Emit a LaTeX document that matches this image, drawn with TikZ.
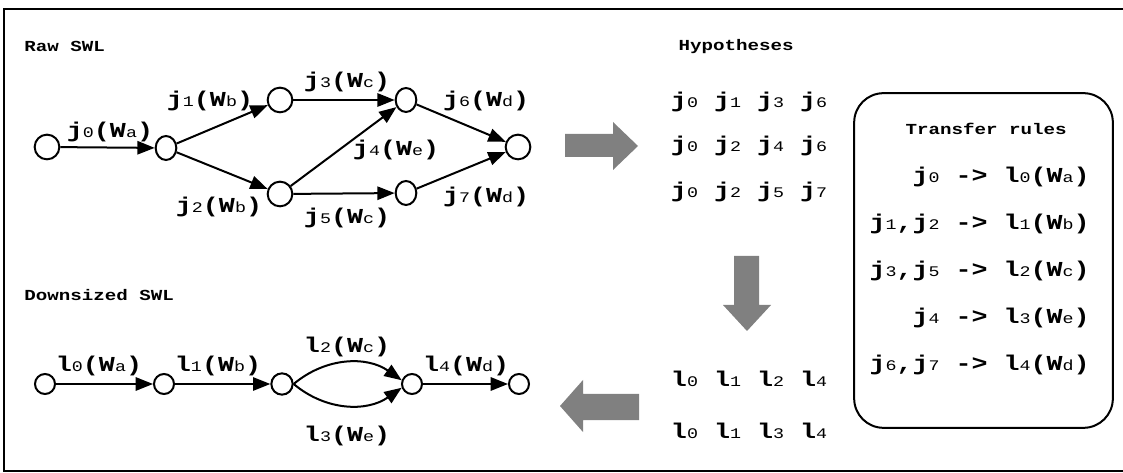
\documentclass[tikz,border=0pt]{standalone}
\usepackage{fontspec}
\newfontfamily\swlfont[FakeStretch=1.25]{Liberation Mono}
\usetikzlibrary{shapes.geometric,arrows.meta}
% small index after j or l
\newcommand{\idx}[1]{{\fontsize{11}{12}\selectfont\mdseries #1}}

\begin{document}
\begin{tikzpicture}[x=0.75pt,y=-0.75pt,
	lab/.style={font=\swlfont\bfseries\fontsize{16}{18}\selectfont,inner sep=0pt},
	title/.style={font=\swlfont\bfseries\fontsize{11.5}{13}\selectfont,inner sep=0pt,anchor=base west},
	vtx/.style={circle,draw,line width=1.5pt,minimum size=18.5pt,inner sep=0pt},
	vtxe/.style={ellipse,draw,line width=1.5pt,minimum width=15.5pt,minimum height=18pt,inner sep=0pt},
	swl/.style={line width=1.5pt,-{Triangle[length=13pt,width=10pt]}},
	fat/.style={fill=black!50,draw=none}]
\useasboundingbox (0,0) rectangle (1123,473);
\draw [line width=1.5pt] (4,9) rectangle (1127,471);

% raw SWL
\node [title] (rawtitle) at (24,52) {Raw SWL};
\node [vtx] (v0) at (47,147) {};
\node [vtxe] (v1) at (166,148) {};
\node [vtx] (v2) at (280,100) {};
\node [vtx] (v3) at (280,194) {};
\node [vtxe] (v4) at (406,100) {};
\node [vtxe] (v5) at (406,193) {};
\node [vtx] (v6) at (518,147) {};
\draw [swl] (v0) -- (v1);
\draw [swl] (v1) -- (v2);
\draw [swl] (v1) -- (v3);
\draw [swl] (v2) -- (v4);
\draw [swl] (v3) -- (v4);
\draw [swl] (v3) -- (v5);
\draw [swl] (v4) -- (v6);
\draw [swl] (v5) -- (v6);
\node [lab] (lj0) at (110,132) {j\idx{0}(W\idx{a})};
\node [lab] (lj1) at (210,101) {j\idx{1}(W\idx{b})};
\node [lab] (lj2) at (219,207) {j\idx{2}(W\idx{b})};
\node [lab] (lj3) at (347,82) {j\idx{3}(W\idx{c})};
\node [lab] (lj4) at (396,150) {j\idx{4}(W\idx{e})};
\node [lab] (lj5) at (347,218) {j\idx{5}(W\idx{c})};
\node [lab] (lj6) at (486,101) {j\idx{6}(W\idx{d})};
\node [lab] (lj7) at (486,197) {j\idx{7}(W\idx{d})};

% downsized SWL
\node [title] (downtitle) at (24,301) {Downsized SWL};
\node [vtx,minimum size=15pt] (d0) at (45,384) {};
\node [vtx,minimum size=15pt] (d1) at (164,384) {};
\node [vtx,minimum size=16pt] (d2) at (282,384) {};
\node [vtx,minimum size=15pt] (d3) at (412,384) {};
\node [vtx,minimum size=15pt] (d4) at (519,384) {};
\draw [swl] (d0) -- (d1);
\draw [swl] (d1) -- (d2);
\draw [swl] (d2.east) to [out=40,in=145] (d3.160);
\draw [swl] (d2.east) to [out=-40,in=-145] (d3.200);
\draw [swl] (d3) -- (d4);
\node [lab] (ll0) at (99,366) {l\idx{0}(W\idx{a})};
\node [lab] (ll1) at (218,366) {l\idx{1}(W\idx{b})};
\node [lab] (ll2) at (347,347) {l\idx{2}(W\idx{c})};
\node [lab] (ll3) at (347,436) {l\idx{3}(W\idx{e})};
\node [lab] (ll4) at (466,366) {l\idx{4}(W\idx{d})};

% hypotheses
\node [title,anchor=base] (hyptitle) at (736,51) {Hypotheses};
\node [lab,anchor=base] (hj1) at (749,108) {j\idx{0} j\idx{1} j\idx{3} j\idx{6}};
\node [lab,anchor=base] (hj2) at (749,152) {j\idx{0} j\idx{2} j\idx{4} j\idx{6}};
\node [lab,anchor=base] (hj3) at (749,198) {j\idx{0} j\idx{2} j\idx{5} j\idx{7}};
\node [lab,anchor=base] (hl1) at (749,387) {l\idx{0} l\idx{1} l\idx{2} l\idx{4}};
\node [lab,anchor=base] (hl2) at (749,438) {l\idx{0} l\idx{1} l\idx{3} l\idx{4}};

% big gray arrows
\fill [fat] (565,134) -- (613,134) -- (613,122) -- (638,146) -- (613,170) -- (613,157) -- (565,157) -- cycle;
\fill [fat] (734,256) -- (759,256) -- (759,305) -- (771,305) -- (747,331) -- (723,305) -- (734,305) -- cycle;
\fill [fat] (639,394) -- (583,394) -- (583,380) -- (560,406) -- (583,432) -- (583,420) -- (639,420) -- cycle;

% transfer rules
\node [draw,line width=1.5pt,rounded corners=22pt,minimum width=194pt,minimum height=251pt] (rulebox) at (983.5,260.5) {};
\node [title,anchor=base] (ruletitle) at (986,135) {Transfer rules};
\node [lab,anchor=base east] (rule0) at (1090,183) {j\idx{0} -> l\idx{0}(W\idx{a})};
\node [lab,anchor=base east] (rule1) at (1090,230) {j\idx{1},j\idx{2} -> l\idx{1}(W\idx{b})};
\node [lab,anchor=base east] (rule2) at (1090,277) {j\idx{3},j\idx{5} -> l\idx{2}(W\idx{c})};
\node [lab,anchor=base east] (rule3) at (1090,324) {j\idx{4} -> l\idx{3}(W\idx{e})};
\node [lab,anchor=base east] (rule4) at (1090,371) {j\idx{6},j\idx{7} -> l\idx{4}(W\idx{d})};
\end{tikzpicture}
\end{document}
